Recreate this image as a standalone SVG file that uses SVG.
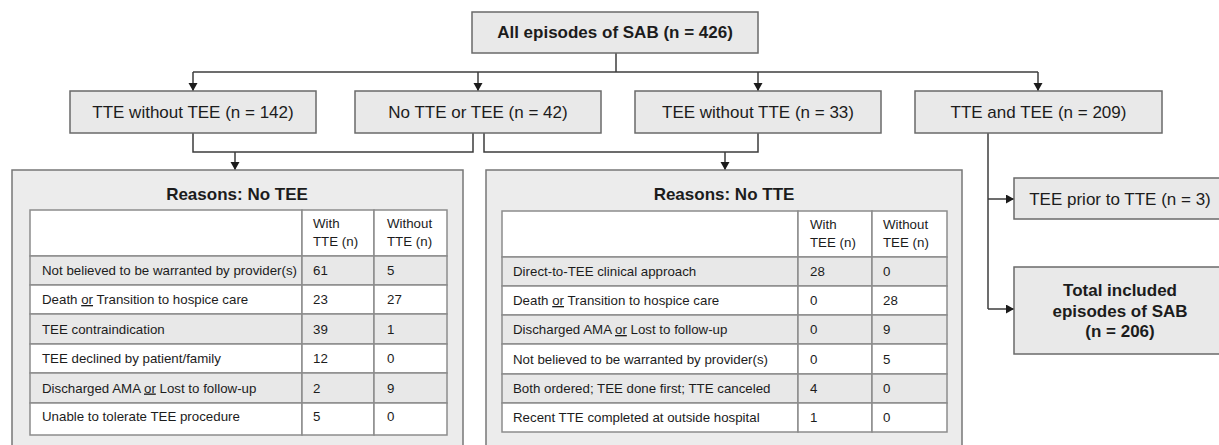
<svg xmlns="http://www.w3.org/2000/svg" width="1219" height="445" viewBox="0 0 1219 445">
<style>
text{font-family:"Liberation Sans",Arial,sans-serif;fill:#1c1c1c}
.box{fill:#e9e9e9;stroke:#6a6a6a;stroke-width:1.5}
.outer{fill:#ececec;stroke:#777;stroke-width:1.5}
.lbl{font-size:17px;text-anchor:middle}
.bold{font-weight:bold}
.title{font-size:17px;font-weight:bold;text-anchor:middle}
.cell{font-size:13.3px}
.g{fill:#e8e8e8;stroke:#8c8c8c;stroke-width:1.5}
.w{fill:#ffffff;stroke:#8c8c8c;stroke-width:1.5}
.conn{fill:none;stroke:#3c3c3c;stroke-width:1.5}
.u{text-decoration:underline}
</style>
<defs>
<marker id="arr" markerUnits="userSpaceOnUse" markerWidth="10" markerHeight="10" refX="8" refY="4.5" orient="auto">
<path d="M0,0 L8,4.5 L0,9 z" fill="#1c1c1c"/>
</marker>
</defs>

<g id="connectors">
<path class="conn" d="M616,53 V72"/>
<path class="conn" d="M193,72 H1038"/>
<path class="conn" d="M193,72 V91" marker-end="url(#arr)"/>
<path class="conn" d="M478,72 V91" marker-end="url(#arr)"/>
<path class="conn" d="M758,72 V91" marker-end="url(#arr)"/>
<path class="conn" d="M1038,72 V91" marker-end="url(#arr)"/>
<path class="conn" d="M193,133 V152 H473 V133"/>
<path class="conn" d="M235,152 V170" marker-end="url(#arr)"/>
<path class="conn" d="M484,133 V152 H758 V133"/>
<path class="conn" d="M725,152 V170" marker-end="url(#arr)"/>
<path class="conn" d="M988,133 V309"/>
<path class="conn" d="M988,199 H1014" marker-end="url(#arr)"/>
<path class="conn" d="M988,309 H1014" marker-end="url(#arr)"/>
</g>

<g id="all">
<rect class="box" x="472" y="12" width="286" height="41"/>
<text class="lbl bold" x="615" y="38">All episodes of SAB (n = 426)</text>
</g>

<g id="tte-no-tee">
<rect class="box" x="70" y="91" width="246" height="42"/>
<text class="lbl" x="193" y="118">TTE without TEE (n = 142)</text>
</g>
<g id="no-tte-tee">
<rect class="box" x="355" y="91" width="246" height="42"/>
<text class="lbl" x="478" y="118">No TTE or TEE (n = 42)</text>
</g>
<g id="tee-no-tte">
<rect class="box" x="635" y="91" width="246" height="42"/>
<text class="lbl" x="758" y="118">TEE without TTE (n = 33)</text>
</g>
<g id="tte-and-tee">
<rect class="box" x="915" y="91" width="247" height="42"/>
<text class="lbl" x="1038.5" y="118">TTE and TEE (n = 209)</text>
</g>

<g id="tee-prior">
<rect class="box" x="1014" y="178" width="212" height="41"/>
<text class="lbl" x="1120" y="205">TEE prior to TTE (n = 3)</text>
</g>
<g id="total">
<rect class="box" x="1014" y="267" width="212" height="87"/>
<text class="lbl bold" x="1120" y="296">Total included</text>
<text class="lbl bold" x="1120" y="316.5">episodes of SAB</text>
<text class="lbl bold" x="1120" y="337">(n = 206)</text>
</g>

<g id="reasons-no-tee">
<rect class="outer" x="12" y="170" width="451" height="290"/>
<text class="title" x="237" y="200">Reasons: No TEE</text>
<rect class="w" x="30" y="210" width="272" height="46"/>
<rect class="w" x="302" y="210" width="72" height="46"/>
<rect class="w" x="374" y="210" width="73" height="46"/>
<text class="cell" x="313" y="228">With</text>
<text class="cell" x="313" y="246">TTE (n)</text>
<text class="cell" x="387" y="228">Without</text>
<text class="cell" x="387" y="246">TTE (n)</text>

<rect class="g" x="30" y="256" width="272" height="29"/><rect class="g" x="302" y="256" width="72" height="29"/><rect class="g" x="374" y="256" width="73" height="29"/>
<text class="cell" x="42" y="275">Not believed to be warranted by provider(s)</text><text class="cell" x="313" y="275">61</text><text class="cell" x="387" y="275">5</text>

<rect class="w" x="30" y="285" width="272" height="29"/><rect class="w" x="302" y="285" width="72" height="29"/><rect class="w" x="374" y="285" width="73" height="29"/>
<text class="cell" x="42" y="304">Death <tspan class="u">or</tspan> Transition to hospice care</text><text class="cell" x="313" y="304">23</text><text class="cell" x="387" y="304">27</text>

<rect class="g" x="30" y="314" width="272" height="30"/><rect class="g" x="302" y="314" width="72" height="30"/><rect class="g" x="374" y="314" width="73" height="30"/>
<text class="cell" x="42" y="333.5">TEE contraindication</text><text class="cell" x="313" y="333.5">39</text><text class="cell" x="387" y="333.5">1</text>

<rect class="w" x="30" y="344" width="272" height="29"/><rect class="w" x="302" y="344" width="72" height="29"/><rect class="w" x="374" y="344" width="73" height="29"/>
<text class="cell" x="42" y="363">TEE declined by patient/family</text><text class="cell" x="313" y="363">12</text><text class="cell" x="387" y="363">0</text>

<rect class="g" x="30" y="373" width="272" height="30"/><rect class="g" x="302" y="373" width="72" height="30"/><rect class="g" x="374" y="373" width="73" height="30"/>
<text class="cell" x="42" y="392.5">Discharged AMA <tspan class="u">or</tspan> Lost to follow-up</text><text class="cell" x="313" y="392.5">2</text><text class="cell" x="387" y="392.5">9</text>

<rect class="w" x="30" y="403" width="272" height="32"/><rect class="w" x="302" y="403" width="72" height="32"/><rect class="w" x="374" y="403" width="73" height="32"/>
<text class="cell" x="42" y="421">Unable to tolerate TEE procedure</text><text class="cell" x="313" y="421">5</text><text class="cell" x="387" y="421">0</text>
</g>

<g id="reasons-no-tte">
<rect class="outer" x="486" y="170" width="476" height="290"/>
<text class="title" x="724" y="200">Reasons: No TTE</text>
<rect class="w" x="502" y="211" width="296" height="46"/>
<rect class="w" x="798" y="211" width="74" height="46"/>
<rect class="w" x="872" y="211" width="75" height="46"/>
<text class="cell" x="810" y="229">With</text>
<text class="cell" x="810" y="247">TEE (n)</text>
<text class="cell" x="883" y="229">Without</text>
<text class="cell" x="883" y="247">TEE (n)</text>

<rect class="g" x="502" y="257" width="296" height="29"/><rect class="g" x="798" y="257" width="74" height="29"/><rect class="g" x="872" y="257" width="75" height="29"/>
<text class="cell" x="513" y="276">Direct-to-TEE clinical approach</text><text class="cell" x="810" y="276">28</text><text class="cell" x="883" y="276">0</text>

<rect class="w" x="502" y="286" width="296" height="29"/><rect class="w" x="798" y="286" width="74" height="29"/><rect class="w" x="872" y="286" width="75" height="29"/>
<text class="cell" x="513" y="305">Death <tspan class="u">or</tspan> Transition to hospice care</text><text class="cell" x="810" y="305">0</text><text class="cell" x="883" y="305">28</text>

<rect class="g" x="502" y="315" width="296" height="29"/><rect class="g" x="798" y="315" width="74" height="29"/><rect class="g" x="872" y="315" width="75" height="29"/>
<text class="cell" x="513" y="334">Discharged AMA <tspan class="u">or</tspan> Lost to follow-up</text><text class="cell" x="810" y="334">0</text><text class="cell" x="883" y="334">9</text>

<rect class="w" x="502" y="344" width="296" height="30"/><rect class="w" x="798" y="344" width="74" height="30"/><rect class="w" x="872" y="344" width="75" height="30"/>
<text class="cell" x="513" y="363.5">Not believed to be warranted by provider(s)</text><text class="cell" x="810" y="363.5">0</text><text class="cell" x="883" y="363.5">5</text>

<rect class="g" x="502" y="374" width="296" height="29"/><rect class="g" x="798" y="374" width="74" height="29"/><rect class="g" x="872" y="374" width="75" height="29"/>
<text class="cell" x="513" y="393">Both ordered; TEE done first; TTE canceled</text><text class="cell" x="810" y="393">4</text><text class="cell" x="883" y="393">0</text>

<rect class="w" x="502" y="403" width="296" height="29"/><rect class="w" x="798" y="403" width="74" height="29"/><rect class="w" x="872" y="403" width="75" height="29"/>
<text class="cell" x="513" y="422">Recent TTE completed at outside hospital</text><text class="cell" x="810" y="422">1</text><text class="cell" x="883" y="422">0</text>
</g>
</svg>
